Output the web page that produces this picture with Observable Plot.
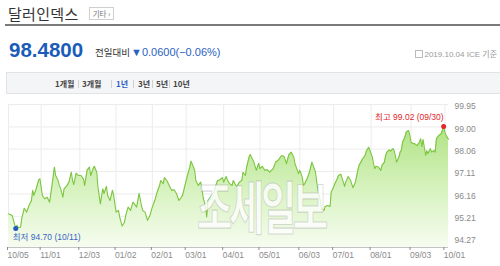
<!DOCTYPE html>
<html><head><meta charset="utf-8">
<script src="https://cdn.jsdelivr.net/npm/d3@7"></script>
<script src="https://cdn.jsdelivr.net/npm/@observablehq/plot@0.6"></script>
<style>
body{margin:0;background:#fff;font-family:"Liberation Sans","Noto Sans CJK KR",sans-serif;}
#wrap{position:relative;width:500px;height:266px;overflow:hidden}
#head{position:relative;height:96px}
.a{position:absolute;white-space:nowrap}
#title{left:8px;top:5px;font:15px/18px "Noto Sans CJK KR",sans-serif;color:#333;letter-spacing:0.3px}
#tag{left:89px;top:7px;width:23px;height:11px;border:1px solid #cfcfcf;font:7.5px/11px "Noto Sans CJK KR",sans-serif;color:#777;text-align:center}
#rule{left:5px;top:24px;width:495px;height:2px;background:#7a7a7a}
#price{left:9px;top:39px;font:bold 20.5px/22px "Liberation Sans",sans-serif;color:#1b5cb8}
#lbl{left:95px;top:46px;font:9.5px/12px "Noto Sans CJK KR",sans-serif;color:#333}
#chg{left:131px;top:45px;font:11px/14px "Liberation Sans","Noto Sans CJK KR",sans-serif;color:#2a62c0}
#asof{right:3px;top:49px;font:8px/11px "Liberation Sans","Noto Sans CJK KR",sans-serif;color:#999}
#asof i{display:inline-block;width:6px;height:6px;border:1px solid #bbb;margin-right:1px;vertical-align:-1px}
#tabs{left:6px;top:72px;width:494px;height:20px;background:#f4f5f7;border-top:1px solid #e3e3e3;border-bottom:1px solid #e3e3e3;border-left:1px solid #e3e3e3}
.t{top:78px;font:bold 8px/12px "Noto Sans CJK KR",sans-serif;color:#444}
.s{top:80px;width:1px;height:8px;background:#d0d0d0}
#chart{position:absolute;left:0;top:96px}
#wm{left:197px;top:177px;font:bold 34px/34px "Noto Sans CJK KR",sans-serif;color:rgba(255,255,255,0.78);-webkit-text-stroke:0.7px rgba(150,150,150,0.35);transform:scale(1.13,1.68);transform-origin:top left;letter-spacing:-3px;z-index:3}
</style></head>
<body>
<div id="wrap">
<div id="head">
  <div class="a" id="title">달러인덱스</div>
  <div class="a" id="tag">기타 ›</div>
  <div class="a" id="rule"></div>
  <div class="a" id="price">98.4800</div>
  <div class="a" id="lbl">전일대비</div>
  <div class="a" id="chg">▼0.0600(−0.06%)</div>
  <div class="a" id="asof"><i></i>2019.10.04 ICE 기준</div>
  <div class="a" id="tabs"></div>
  <div class="a t" style="left:55px">1개월</div>
  <div class="a s" style="left:78px"></div>
  <div class="a t" style="left:82px">3개월</div>
  <div class="a s" style="left:111px"></div>
  <div class="a t" style="left:116px;color:#2f5fc4">1년</div>
  <div class="a s" style="left:133px"></div>
  <div class="a t" style="left:138px">3년</div>
  <div class="a s" style="left:152px"></div>
  <div class="a t" style="left:156px">5년</div>
  <div class="a s" style="left:169px"></div>
  <div class="a t" style="left:173px">10년</div>
</div>
<div id="chart"></div>
<div class="a" id="wm">조세일보</div>
</div>
<script>
const dates = [
"2018-10-05","2018-10-08","2018-10-11","2018-10-12","2018-10-13","2018-10-15","2018-10-16","2018-10-18","2018-10-20","2018-10-22",
"2018-10-24","2018-10-25","2018-10-26","2018-10-28","2018-10-30","2018-10-31","2018-11-02","2018-11-03","2018-11-04","2018-11-06",
"2018-11-08","2018-11-10","2018-11-12","2018-11-13","2018-11-15","2018-11-16","2018-11-17","2018-11-19","2018-11-20","2018-11-22",
"2018-11-24","2018-11-26","2018-11-27","2018-11-28","2018-11-30","2018-12-02","2018-12-04","2018-12-06","2018-12-07","2018-12-09",
"2018-12-11","2018-12-12","2018-12-14","2018-12-15","2018-12-17","2018-12-18","2018-12-20","2018-12-22","2018-12-23","2018-12-25",
"2018-12-26","2018-12-28","2018-12-30","2018-12-31","2019-01-02","2019-01-04","2019-01-05","2019-01-07","2019-01-09","2019-01-10",
"2019-01-12","2019-01-14","2019-01-16","2019-01-19","2019-01-20","2019-01-21","2019-01-23","2019-01-24","2019-01-26","2019-01-28",
"2019-01-30","2019-02-01","2019-02-03","2019-02-05","2019-02-07","2019-02-08","2019-02-10","2019-02-11","2019-02-13","2019-02-15",
"2019-02-17","2019-02-19","2019-02-21","2019-02-23","2019-02-25","2019-02-26","2019-02-28","2019-03-02","2019-03-04","2019-03-05",
"2019-03-07","2019-03-08","2019-03-09","2019-03-11","2019-03-13","2019-03-14","2019-03-15","2019-03-17","2019-03-18","2019-03-19",
"2019-03-21","2019-03-22","2019-03-24","2019-03-25","2019-03-27","2019-03-29","2019-03-31","2019-04-01","2019-04-03","2019-04-04",
"2019-04-06","2019-04-08","2019-04-09","2019-04-11","2019-04-12","2019-04-14","2019-04-16","2019-04-17","2019-04-19","2019-04-20",
"2019-04-22","2019-04-23","2019-04-24","2019-04-26","2019-04-28","2019-04-30","2019-05-01","2019-05-03","2019-05-05","2019-05-07",
"2019-05-09","2019-05-12","2019-05-14","2019-05-16","2019-05-17","2019-05-19","2019-05-21","2019-05-23","2019-05-24","2019-05-25",
"2019-05-27","2019-05-29","2019-05-30","2019-06-01","2019-06-02","2019-06-03","2019-06-05","2019-06-06","2019-06-07","2019-06-09",
"2019-06-11","2019-06-13","2019-06-14","2019-06-16","2019-06-17","2019-06-18","2019-06-20","2019-06-21","2019-06-23","2019-06-24",
"2019-06-26","2019-06-28","2019-06-29","2019-06-30","2019-07-02","2019-07-04","2019-07-05","2019-07-07","2019-07-09","2019-07-10",
"2019-07-11","2019-07-13","2019-07-15","2019-07-17","2019-07-19","2019-07-21","2019-07-22","2019-07-25","2019-07-27","2019-07-28",
"2019-07-30","2019-07-31","2019-08-02","2019-08-03","2019-08-04","2019-08-05","2019-08-07","2019-08-08","2019-08-09","2019-08-10",
"2019-08-12","2019-08-13","2019-08-14","2019-08-16","2019-08-17","2019-08-19","2019-08-20","2019-08-21","2019-08-22","2019-08-24",
"2019-08-25","2019-08-26","2019-08-27","2019-08-29","2019-08-30","2019-09-01","2019-09-02","2019-09-03","2019-09-05","2019-09-06",
"2019-09-08","2019-09-10","2019-09-11","2019-09-12","2019-09-13","2019-09-15","2019-09-16","2019-09-17","2019-09-19","2019-09-20",
"2019-09-22","2019-09-23","2019-09-24","2019-09-26","2019-09-28","2019-09-30","2019-10-01","2019-10-02","2019-10-04"
];
const values = [
95.32,95.25,94.70,94.83,94.74,94.75,95.12,95.55,95.39,95.67,
95.88,96.31,96.10,96.39,96.76,96.80,96.10,96.02,95.96,96.02,
95.81,96.52,97.30,96.94,96.73,96.52,96.42,96.02,96.38,96.48,
96.66,97.08,96.73,96.56,97.04,96.94,96.94,96.80,96.52,97.16,
97.30,96.94,97.23,97.33,97.08,96.45,95.74,96.38,96.17,96.48,
96.10,95.88,96.31,96.10,95.39,95.46,95.18,94.80,94.96,95.25,
95.60,95.46,95.81,95.60,95.88,96.19,95.67,95.46,95.39,95.04,
95.25,95.60,95.88,96.24,96.52,96.73,96.59,96.85,96.73,96.52,
96.31,96.34,96.17,95.88,96.02,96.10,96.52,96.94,97.30,97.55,
97.30,97.16,96.73,96.52,96.66,96.38,96.02,95.60,95.18,95.88,
96.02,96.10,96.24,96.45,96.73,96.76,96.85,96.66,96.90,96.76,
96.59,96.52,96.73,96.52,96.48,96.66,96.73,97.08,96.94,97.30,
97.72,97.83,97.72,97.51,97.16,97.46,97.23,97.33,97.16,97.19,
97.08,97.23,97.51,97.58,97.65,97.79,97.75,97.44,97.65,97.83,
97.93,97.72,97.44,97.16,97.02,97.16,96.87,96.52,96.59,96.80,
97.08,97.51,97.37,97.08,96.66,96.31,95.88,95.53,95.46,95.63,
95.67,95.63,96.24,96.34,96.59,96.80,96.94,96.99,96.66,96.48,
96.66,96.90,96.73,96.42,96.66,97.16,97.37,97.65,97.79,97.97,
98.14,98.00,97.72,97.44,97.23,97.33,97.30,97.23,97.16,97.37,
97.51,97.79,97.93,98.03,97.97,98.08,98.00,97.79,97.51,97.72,
97.93,98.00,98.35,98.57,98.78,98.85,98.64,98.35,98.29,98.29,
98.21,98.35,98.50,98.17,98.46,97.79,98.00,97.86,98.08,97.93,
98.00,97.93,98.50,98.64,98.71,99.02,98.78,98.64,98.48
];
const xTickDates = ["2018-10-05","2018-11-01","2018-12-03","2019-01-02","2019-02-01","2019-03-01","2019-04-01","2019-05-01","2019-06-03","2019-07-01","2019-08-01","2019-09-03","2019-10-01"];
const yTicks = [94.27, 95.21, 96.16, 97.11, 98.06, 99.00, 99.95];
const lowPoint = {date: "2018-10-11", value: 94.70, label: "최저 94.70 (10/11)"};
const highPoint = {date: "2019-09-30", value: 99.02, label: "최고 99.02 (09/30)"};

const parse = d3.utcParse("%Y-%m-%d");
const data = dates.map((d, i) => ({date: parse(d), value: values[i]}));
const ticks = xTickDates.map(parse);
const low = {...lowPoint, date: parse(lowPoint.date)};
const high = {...highPoint, date: parse(highPoint.date)};
const yLo = 93.89, yHi = yTicks[yTicks.length - 1];

const grad = () => {
  const ns = "http://www.w3.org/2000/svg";
  const defs = document.createElementNS(ns, "defs");
  const lg = document.createElementNS(ns, "linearGradient");
  lg.setAttribute("id", "fillG");
  lg.setAttribute("x1", "0"); lg.setAttribute("y1", "0");
  lg.setAttribute("x2", "0"); lg.setAttribute("y2", "1");
  [["0", "#b0e384"], ["0.55", "#d9f3c2"], ["1", "#f6fcf0"]].forEach(([o, c]) => {
    const s = document.createElementNS(ns, "stop");
    s.setAttribute("offset", o); s.setAttribute("stop-color", c);
    lg.appendChild(s);
  });
  defs.appendChild(lg);
  return defs;
};

const chart = Plot.plot({
  width: 500,
  height: 170,
  marginTop: 8,
  marginBottom: 19,
  marginLeft: 8,
  marginRight: 52,
  style: {fontFamily: "'Liberation Sans','Noto Sans CJK KR',sans-serif", fontSize: "8.5px", background: "transparent", overflow: "visible"},
  x: {type: "utc", domain: [data[0].date, data[data.length - 1].date]},
  y: {domain: [yLo, yHi]},
  marks: [
    grad,
    Plot.ruleY(yTicks, {stroke: "#ececec"}),
    Plot.ruleX(ticks, {stroke: "#ececec"}),
    Plot.areaY(data, {x: "date", y1: yLo, y2: "value", fill: "url(#fillG)"}),
    Plot.line(data, {x: "date", y: "value", stroke: "#7cc540", strokeWidth: 1.1}),
    Plot.ruleY([yLo], {stroke: "#c4c4c4"}),
    Plot.axisX(ticks, {tickFormat: d3.utcFormat("%m/%d"), tickSize: 3, tickPadding: 1, textAnchor: "start", dx: -1, color: "#8a8a8a", fontSize: 8.5, label: null}),
    Plot.axisY(yTicks, {anchor: "right", tickSize: 0, tickPadding: 6, tickFormat: d => d.toFixed(2), dy: 2, fill: "#8a8a8a", fontSize: 8.5, label: null}),
    Plot.dot([low], {x: "date", y: "value", r: 2.5, fill: "#1f5cbf"}),
    Plot.dot([high], {x: "date", y: "value", r: 2.5, fill: "#e1262a"}),
    Plot.text([low], {x: "date", y: "value", text: "label", textAnchor: "start", dx: -3, dy: 9, fill: "#3a66c4", fontSize: 8.5}),
    Plot.text([high], {x: "date", y: "value", text: "label", textAnchor: "end", dx: 0, dy: -9, fill: "#e1262a", fontSize: 8.5})
  ]
});
document.getElementById("chart").appendChild(chart);
</script>
</body></html>
